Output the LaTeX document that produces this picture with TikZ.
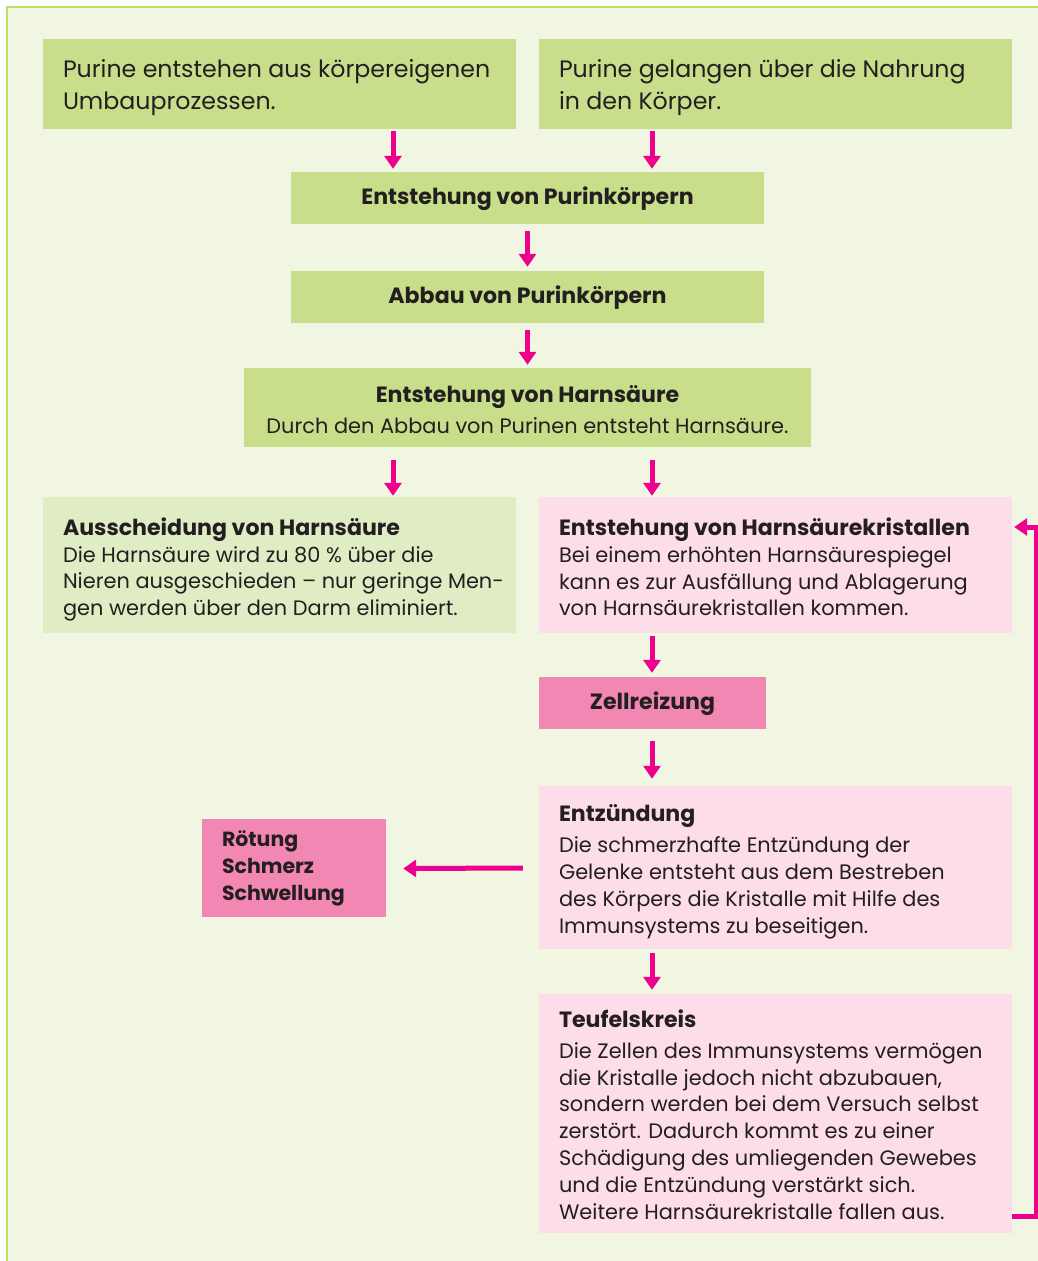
\documentclass[tikz,border=0pt]{standalone}
\usepackage{fontspec}
\setmainfont{Poppins}
\usetikzlibrary{arrows.meta,calc}
\definecolor{bgcol}{HTML}{F1F6E3}
\definecolor{framecol}{HTML}{BCDF6A}
\definecolor{greenbox}{HTML}{C8DE8A}
\definecolor{lightgreen}{HTML}{E0EDC4}
\definecolor{lightpink}{HTML}{FCDDE9}
\definecolor{darkpink}{HTML}{F287B3}
\definecolor{arrcol}{HTML}{EC008C}
\definecolor{txtcol}{HTML}{231F20}
\newcommand{\bigtxt}{\fontsize{23.7}{32}\selectfont}
\newcommand{\bodytxt}{\fontsize{20.9}{26.8}\selectfont}
\newcommand{\headtxt}{\fontsize{22.1}{27}\selectfont\bfseries}
\newcommand{\smallhead}{\fontsize{20.5}{27}\selectfont\bfseries}
\begin{document}
\begin{tikzpicture}[x=1pt,y=-1pt,
  box/.style={draw=none,inner sep=0pt,anchor=center},
  gbox/.style={box,fill=greenbox},
  lgbox/.style={box,fill=lightgreen},
  lpbox/.style={box,fill=lightpink},
  dpbox/.style={box,fill=darkpink},
  txt/.style={text=txtcol,inner sep=0pt,align=left,anchor=west},
  ctxt/.style={text=txtcol,inner sep=0pt,align=center,anchor=center},
  arr/.style={draw=arrcol,line width=5pt,line join=miter,
    -{Triangle[width=17pt,length=13pt]}}
]
\useasboundingbox (0,0) rectangle (1038,1261);
\fill[white] (0,0) rectangle (1038,1261);
\fill[bgcol] (7,7) rectangle (1038,1261);
\draw[framecol,line width=2pt] (7,1261) -- (7,7) -- (1038,7);

% boxes
\node[gbox,minimum width=473pt,minimum height=90pt] (b1) at (279.5,84) {};
\node[gbox,minimum width=473pt,minimum height=90pt] (b2) at (775.5,84) {};
\node[gbox,minimum width=473pt,minimum height=52pt] (b3) at (527.5,198) {};
\node[gbox,minimum width=473pt,minimum height=52pt] (b4) at (527.5,297) {};
\node[gbox,minimum width=567pt,minimum height=79pt] (b5) at (527.5,407.5) {};
\node[lgbox,minimum width=473pt,minimum height=136pt] (b6) at (279.5,565) {};
\node[lpbox,minimum width=473pt,minimum height=136pt] (b7) at (775.5,565) {};
\node[dpbox,minimum width=227pt,minimum height=52pt] (b8) at (652.5,703) {};
\node[lpbox,minimum width=473pt,minimum height=163pt] (b9) at (775.5,867.5) {};
\node[dpbox,minimum width=184pt,minimum height=98pt] (b10) at (294,868) {};
\node[lpbox,minimum width=473pt,minimum height=239pt] (b11) at (775.5,1113.5) {};

% texts
\node[txt,font=\bigtxt] (t1) at ($(b1.west)+(20,3.5)$)
  {Purine entstehen aus körpereigenen\\Umbauprozessen.};
\node[txt,font=\bigtxt] (t2) at ($(b2.west)+(20,3.5)$)
  {Purine gelangen über die Nahrung\\in den Körper.};
\node[ctxt,font=\headtxt] (t3) at ($(b3.center)+(0,1)$) {Entstehung von Purinkörpern};
\node[ctxt,font=\headtxt] (t4) at ($(b4.center)+(0,1)$) {Abbau von Purinkörpern};
\node[ctxt,font=\bodytxt] (t5) at ($(b5.center)+(0,2)$)
  {{\headtxt Entstehung von Harnsäure}\\[4pt]Durch den Abbau von Purinen entsteht Harnsäure.};
\node[txt,font=\bodytxt] (t6) at ($(b6.west)+(20,4.5)$)
  {{\headtxt Ausscheidung von Harnsäure}\\Die Harnsäure wird zu 80 \% über die\\Nieren ausgeschieden – nur geringe Men-\\gen werden über den Darm eliminiert.};
\node[txt,font=\bodytxt] (t7) at ($(b7.west)+(20,2)$)
  {{\headtxt Entstehung von Harnsäurekristallen}\\Bei einem erhöhten Harnsäurespiegel\\kann es zur Ausfällung und Ablagerung\\von Harnsäurekristallen kommen.};
\node[ctxt,font=\headtxt] (t8) at ($(b8.center)+(0,1)$) {Zellreizung};
\node[txt,font=\bodytxt] (t9) at ($(b9.west)+(20,4)$)
  {{\headtxt Entzündung}\\[5pt]Die schmerzhafte Entzündung der\\Gelenke entsteht aus dem Bestreben\\des Körpers die Kristalle mit Hilfe des\\Immunsystems zu beseitigen.};
\node[txt,font=\smallhead] (t10) at ($(b10.west)+(20,0)$)
  {Rötung\\Schmerz\\Schwellung};
\node[txt,font=\bodytxt] (t11) at ($(b11.west)+(20,1)$)
  {{\headtxt Teufelskreis}\\[4pt]Die Zellen des Immunsystems vermögen\\die Kristalle jedoch nicht abzubauen,\\sondern werden bei dem Versuch selbst\\zerstört. Dadurch kommt es zu einer\\Schädigung des umliegenden Gewebes\\und die Entzündung verstärkt sich.\\Weitere Harnsäurekristalle fallen aus.};

% arrows
\coordinate (xL) at (393,0);
\coordinate (xR) at (652,0);
\draw[arr] ($(b1.south -| xL)+(0,2)$) -- ($(b3.north -| xL)+(0,-3)$);
\draw[arr] ($(b2.south -| xR)+(0,2)$) -- ($(b3.north -| xR)+(0,-3)$);
\draw[arr] ($(b3.south)+(0,7)$) -- ($(b4.north)+(0,-4)$);
\draw[arr] ($(b4.south)+(0,7)$) -- ($(b5.north)+(0,-3)$);
\draw[arr] ($(b5.south -| xL)+(0,13)$) -- ($(b6.north -| xL)+(0,-1)$);
\draw[arr] ($(b5.south -| xR)+(0,13)$) -- ($(b7.north -| xR)+(0,-1)$);
\draw[arr] ($(b7.south -| xR)+(0,3)$) -- ($(b8.north -| xR)+(0,-4)$);
\draw[arr] ($(b8.south -| xR)+(0,12)$) -- ($(b9.north -| xR)+(0,-7)$);
\draw[arr] ($(b9.south -| xR)+(0,4)$) -- ($(b11.north -| xR)+(0,-4)$);
\draw[arr] ($(b9.west)+(-16,0.5)$) -- ($(b10.east)+(17,0.5)$);
\draw[arr] ($(b11.east)+(0,102.5)$) -- ++(24,0) |- ($(b7.east)+(2,-38)$);
\end{tikzpicture}
\end{document}
